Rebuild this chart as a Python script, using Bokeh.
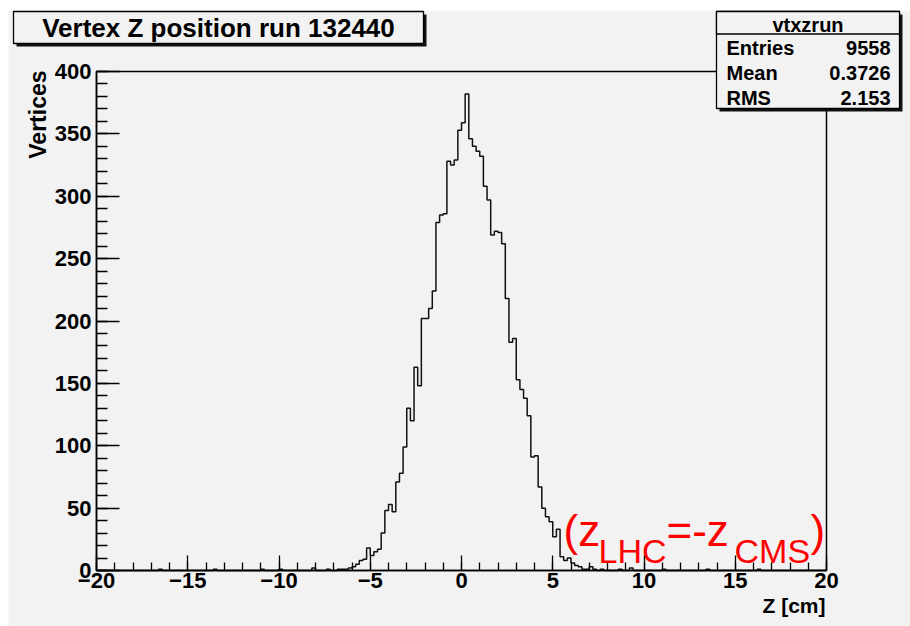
import numpy as np
from bokeh.plotting import figure
from bokeh.models import Range1d, SingleIntervalTicker, Label, BoxAnnotation
from bokeh.embed import file_html
from bokeh.resources import INLINE

# ---------------- data ----------------
title_text = "Vertex Z position run 132440"
x_label = "Z [cm]"
y_label = "Vertices"
stats_name = "vtxzrun"
stats_rows = ["Entries", "Mean", "RMS"]
stats_vals = ["9558", "0.3726", "2.153"]

x_min, x_max, bin_width = -20.0, 20.0, 0.2
y_min, y_max = 0, 400

# contiguous bins starting at this left edge
core_first_edge = -6.6
core_counts = [1, 1, 2, 3, 5, 8, 9, 18, 12, 15,
               17, 30, 48, 53, 47, 71, 78, 99, 130, 120,
               163, 148, 202, 202, 210, 224, 279, 285, 286, 328,
               325, 329, 353, 359, 382, 346, 340, 336, 332, 308,
               297, 269, 272, 271, 262, 218, 183, 186, 153, 145,
               138, 124, 91, 92, 67, 50, 43, 39, 27, 33,
               11, 8, 10, 6, 4, 3, 1, 1, 3, 1]
# isolated entries in the tails (bin left edges)
tail_edges = [-16.6, -13.6, -11.0, -10.0, -8.2, -7.4, -6.8, 7.6, 8.6, 9.2, 11.0, 13.4, 16.2]
tail_counts = [1, 1, 1, 1, 2, 1, 1, 1, 1, 2, 1, 1, 1]

# ---------------- histogram assembly ----------------
n_bins = int(round((x_max - x_min) / bin_width))
counts = np.zeros(n_bins)
i0 = int(round((core_first_edge - x_min) / bin_width))
counts[i0:i0 + len(core_counts)] = core_counts
for e, c in zip(tail_edges, tail_counts):
    counts[int(round((e - x_min) / bin_width))] += c
edges = x_min + bin_width * np.arange(n_bins + 1)
step_y = np.append(counts, counts[-1])

# ---------------- geometry (page pixels) ----------------
W, H = 910, 626
FL, FR, FT, FB = 96, 826, 71, 570      # ROOT frame edges
BG = "#f2f2f2"
FONT = "Liberation Sans"

sx = (x_max - x_min) / (FR - FL)       # data units per pixel
sy = (y_max - y_min) / (FB - FT)
x_range = Range1d(x_min - FL * sx, x_max + (W - FR) * sx)
y_range = Range1d(y_min - (H - FB) * sy, y_max + FT * sy)

def cx(px):
    return x_min + (px - FL) * sx

def cy(py):
    return y_min + (FB - py) * sy

p = figure(width=W, height=H, output_backend="svg", toolbar_location=None,
           x_range=x_range, y_range=y_range, min_border=0)
p.background_fill_color = "white"
p.border_fill_color = "white"
p.outline_line_color = None
p.grid.visible = False

# grey ROOT canvas
p.add_layout(BoxAnnotation(left=cx(8), right=cx(W), top=cy(10), bottom=cy(H),
                           fill_color=BG, fill_alpha=1, line_alpha=0, level="underlay"))

# axes drawn on the frame edges
xa, ya = p.xaxis[0], p.yaxis[0]
xa.fixed_location = y_min
ya.fixed_location = x_min
xa.bounds = (x_min, x_max)
ya.bounds = (y_min, y_max)
for ax in (xa, ya):
    ax.axis_line_color = "black"
    ax.axis_line_width = 1.5
    ax.major_tick_line_color = "black"
    ax.minor_tick_line_color = "black"
    ax.major_tick_line_width = 1.3
    ax.minor_tick_line_width = 1.3
    ax.major_label_text_font = FONT
    ax.major_label_text_font_style = "bold"
    ax.major_label_text_font_size = "22px"
    ax.major_label_text_color = "black"

xa.ticker = SingleIntervalTicker(interval=5, num_minor_ticks=5)
xa.major_tick_in = 15
xa.major_tick_out = 0
xa.minor_tick_in = 8
xa.minor_tick_out = 0
xa.major_label_standoff = 2

ya.ticker = SingleIntervalTicker(interval=50, num_minor_ticks=5)
ya.major_tick_in = 23
ya.major_tick_out = 0
ya.minor_tick_in = 11
ya.minor_tick_out = 0
ya.major_label_standoff = 5

# histogram
p.step(edges, step_y, mode="after", line_color="#111111", line_width=1.5)

# frame border
p.add_layout(BoxAnnotation(left=x_min, right=x_max, top=y_max, bottom=y_min,
                           fill_alpha=0, line_color="black", line_alpha=1, line_width=1.5))

def shadow_box(l, t, r, b):
    p.add_layout(BoxAnnotation(left=cx(l + 3), right=cx(r + 3), top=cy(t + 3), bottom=cy(b + 3),
                               fill_color="#111111", fill_alpha=1, line_alpha=0))

def plain_box(l, t, r, b):
    p.add_layout(BoxAnnotation(left=cx(l), right=cx(r), top=cy(t), bottom=cy(b),
                               fill_color=BG, fill_alpha=1, line_color="black",
                               line_alpha=1, line_width=1.3))

# ---------------- title box ----------------
shadow_box(13, 11, 423, 43)
plain_box(13, 11, 423, 43)
p.add_layout(Label(x=cx(218), y=cy(27), text=title_text, text_align="center",
                   text_baseline="middle", text_font=FONT, text_font_style="bold",
                   text_font_size="26px", text_color="black"))

# ---------------- stats box ----------------
shadow_box(716, 11, 899, 108)
plain_box(716, 11, 899, 108)
plain_box(716, 11, 899, 33.5)
p.add_layout(Label(x=cx(807.5), y=cy(24), text=stats_name, text_align="center",
                   text_baseline="middle", text_font=FONT, text_font_style="bold",
                   text_font_size="20px", text_color="black"))
for k, (name, val) in enumerate(zip(stats_rows, stats_vals)):
    yy = cy(47.5 + 25 * k)
    p.add_layout(Label(x=cx(726), y=yy, text=name, text_align="left",
                       text_baseline="middle", text_font=FONT, text_font_style="bold",
                       text_font_size="20px", text_color="black"))
    p.add_layout(Label(x=cx(890), y=yy, text=val, text_align="right",
                       text_baseline="middle", text_font=FONT, text_font_style="bold",
                       text_font_size="20px", text_color="black"))

# ---------------- axis titles ----------------
p.add_layout(Label(x=cx(37), y=cy(70), text=y_label, angle=np.pi / 2,
                   text_align="right", text_baseline="middle", text_font=FONT,
                   text_font_style="bold", text_font_size="23px", text_color="black"))
p.add_layout(Label(x=cx(825), y=cy(605), text=x_label, text_align="right",
                   text_baseline="middle", text_font=FONT, text_font_style="bold",
                   text_font_size="21px", text_color="black"))

# ---------------- red annotation (z_LHC = -z_CMS) ----------------
red_parts = [("(z", 563, 530, "44px"), ("LHC", 598, 550, "34px"),
             ("=-z", 666, 530, "44px"), ("CMS", 734, 550, "34px"),
             (")", 810, 530, "44px")]
for txt, px, py, fs in red_parts:
    p.add_layout(Label(x=cx(px), y=cy(py), text=txt, text_align="left",
                       text_baseline="alphabetic", text_font=FONT,
                       text_font_size=fs, text_color="red"))

open("out.html", "w").write(file_html(p, INLINE))
